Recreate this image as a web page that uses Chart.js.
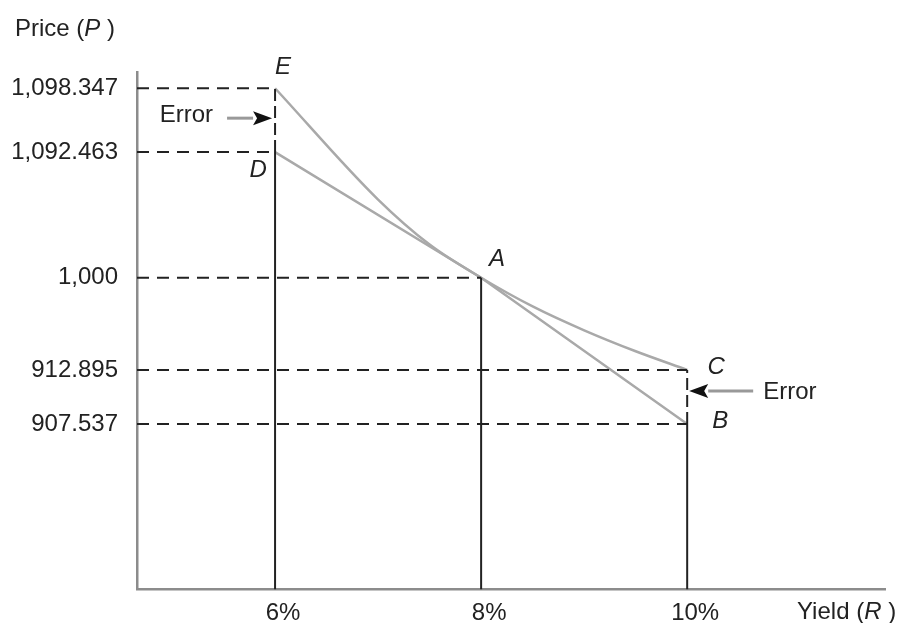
<!DOCTYPE html>
<html>
<head>
<meta charset="utf-8">
<script src="https://cdn.jsdelivr.net/npm/chart.js@4.4.1/dist/chart.umd.min.js"></script>
<style>
  body { margin: 0; background: #fff; }
  canvas { display: block; }
</style>
</head>
<body>
<canvas id="chart" width="900" height="623"></canvas>
<script>
// yields (%) and prices
const yields = [6, 8, 10];
const tangentPrices = [1092.463, 1000, 907.537];            // D, A, B
const curveYields = [6, 7, 7.5, 8, 8.5, 9, 9.5, 10];
const curvePrices = [1098.347, 1057.5, 1024.4, 1000, 972.9, 950.3, 930.5, 912.895]; // E .. A .. C
const yTicks = [1098.347, 1092.463, 1000, 912.895, 907.537];
const yTickLabels = ['1,098.347', '1,092.463', '1,000', '912.895', '907.537'];
const xTicks = [6, 8, 10];
const pointNames = ['E', 'D', 'A', 'C', 'B'];
const pointYields = [6, 6, 8, 10, 10];
const pointPrices = [1098.347, 1092.463, 1000, 912.895, 907.537];

const X_MIN = 4.66, X_MAX = 11.92;
const Y_MIN = 850, Y_MAX = 1100;

const FONT = '"Liberation Sans", Arial, Helvetica, sans-serif';
const INK = '#222';
const GRAY = '#a9a9a9';

// price axis is drawn schematically: piecewise linear between stops
class PiecewiseScale extends Chart.LinearScale {
  getPixelForValue(value) {
    const v = this.options.stopValues, f = this.options.stopFractions;
    let i = 1;
    while (i < v.length - 1 && value > v[i]) i++;
    const t = f[i - 1] + (value - v[i - 1]) / (v[i] - v[i - 1]) * (f[i] - f[i - 1]);
    return this.bottom - t * (this.bottom - this.top);
  }
  getValueForPixel(pixel) {
    const v = this.options.stopValues, f = this.options.stopFractions;
    const t = (this.bottom - pixel) / (this.bottom - this.top);
    let i = 1;
    while (i < f.length - 1 && t > f[i]) i++;
    return v[i - 1] + (t - f[i - 1]) / (f[i] - f[i - 1]) * (v[i] - v[i - 1]);
  }
}
PiecewiseScale.id = 'piecewise';
PiecewiseScale.defaults = Chart.LinearScale.defaults;
Chart.register(PiecewiseScale);

Chart.defaults.font.family = FONT;
Chart.defaults.font.size = 24;
Chart.defaults.color = INK;

function seg(x0, y0, x1, y1, color, width, dash) {
  return {
    data: [{ x: x0, y: y0 }, { x: x1, y: y1 }],
    borderColor: color,
    borderWidth: width,
    borderDash: dash || [],
    pointRadius: 0,
    tension: 0,
    fill: false
  };
}

const datasets = [];
// dashed guides from the price axis
pointPrices.forEach((p, i) => datasets.push(seg(X_MIN, p, pointYields[i], p, INK, 2, [12, 8])));
// solid verticals up to the tangent line
yields.forEach((r, i) => datasets.push(seg(r, Y_MIN, r, tangentPrices[i], INK, 2)));
// dashed error gaps D-E and B-C
datasets.push(seg(6, tangentPrices[0], 6, curvePrices[0], INK, 2, [12, 5]));
datasets.push(seg(10, tangentPrices[2], 10, curvePrices[curvePrices.length - 1], INK, 2, [12, 5]));
// tangent line and price curve
datasets.push({
  data: yields.map((r, i) => ({ x: r, y: tangentPrices[i] })),
  borderColor: GRAY, borderWidth: 2.5, pointRadius: 0, tension: 0
});
datasets.push({
  data: curveYields.map((r, i) => ({ x: r, y: curvePrices[i] })),
  borderColor: GRAY, borderWidth: 2.5, pointRadius: 0, cubicInterpolationMode: 'monotone'
});

function drawParts(ctx, parts, x, y) {
  let cx = x;
  parts.forEach(([text, italic]) => {
    ctx.font = (italic ? 'italic ' : '') + '24px ' + FONT;
    ctx.fillText(text, cx, y);
    cx += ctx.measureText(text).width;
  });
}

function arrow(ctx, tail, tip, yy) {
  const dir = Math.sign(tip - tail);
  const base = tip - dir * 19;
  ctx.strokeStyle = '#999';
  ctx.lineWidth = 3;
  ctx.beginPath();
  ctx.moveTo(tail, yy);
  ctx.lineTo(base, yy);
  ctx.stroke();
  ctx.fillStyle = '#111';
  ctx.beginPath();
  ctx.moveTo(tip, yy);
  ctx.lineTo(base, yy - 7);
  ctx.lineTo(base + dir * 4, yy);
  ctx.lineTo(base, yy + 7);
  ctx.closePath();
  ctx.fill();
}

const notes = {
  id: 'notes',
  afterDraw(chart) {
    const { ctx, scales: { x, y } } = chart;
    ctx.save();
    ctx.fillStyle = INK;
    ctx.textBaseline = 'middle';
    ctx.textAlign = 'left';
    drawParts(ctx, [['Price (', false], ['P', true], [' )', false]], 15, 29);
    drawParts(ctx, [['Yield (', false], ['R', true], [' )', false]], 797, 612);

    // point letters
    const offs = { E: [8, -21], D: [-17, 18], A: [16, -18], C: [29, -3], B: [33, -3] };
    ctx.font = 'italic 24px ' + FONT;
    ctx.textAlign = 'center';
    pointNames.forEach((n, i) => {
      const px = x.getPixelForValue(pointYields[i]);
      const py = y.getPixelForValue(pointPrices[i]);
      ctx.fillText(n, px + offs[n][0], py + offs[n][1]);
    });

    // error arrows
    const xl = x.getPixelForValue(6);
    const yl = (y.getPixelForValue(curvePrices[0]) + y.getPixelForValue(tangentPrices[0])) / 2 - 2;
    arrow(ctx, xl - 48, xl - 3, yl);
    const xr = x.getPixelForValue(10);
    const yr = (y.getPixelForValue(curvePrices[curvePrices.length - 1]) + y.getPixelForValue(tangentPrices[2])) / 2 - 6;
    arrow(ctx, xr + 66, xr + 2, yr);

    ctx.fillStyle = INK;
    ctx.font = '24px ' + FONT;
    ctx.textAlign = 'right';
    ctx.fillText('Error', xl - 62, yl - 3);
    ctx.textAlign = 'left';
    ctx.fillText('Error', xr + 76, yr + 1);
    ctx.restore();
  }
};

new Chart(document.getElementById('chart'), {
  type: 'line',
  data: { datasets },
  plugins: [notes],
  options: {
    responsive: false,
    animation: false,
    events: [],
    layout: { padding: { top: 72, right: 15, left: 0, bottom: 0 } },
    plugins: { legend: { display: false }, tooltip: { enabled: false } },
    scales: {
      x: {
        type: 'linear',
        min: X_MIN,
        max: X_MAX,
        afterBuildTicks: s => { s.ticks = xTicks.map(v => ({ value: v })); },
        afterFit: s => { s.height = 32; },
        grid: { display: false, drawTicks: false },
        border: { color: '#8c8c8c', width: 2.5 },
        ticks: { padding: 9, labelOffset: 8, maxRotation: 0, autoSkip: false, callback: v => v + '%' }
      },
      y: {
        type: 'piecewise',
        min: Y_MIN,
        max: Y_MAX,
        stopValues: [Y_MIN, 907.537, 912.895, 1000, 1092.463, 1098.347, Y_MAX],
        stopFractions: [0, 0.3198, 0.4245, 0.6025, 0.8453, 0.9686, 1],
        afterBuildTicks: s => { s.ticks = yTicks.map(v => ({ value: v })); },
        afterFit: s => { s.width = 137; },
        grid: { display: false, drawTicks: false },
        border: { color: '#8c8c8c', width: 2.5 },
        ticks: { padding: 19, autoSkip: false, callback: (v, i) => yTickLabels[i] }
      }
    }
  }
});
</script>
</body>
</html>
